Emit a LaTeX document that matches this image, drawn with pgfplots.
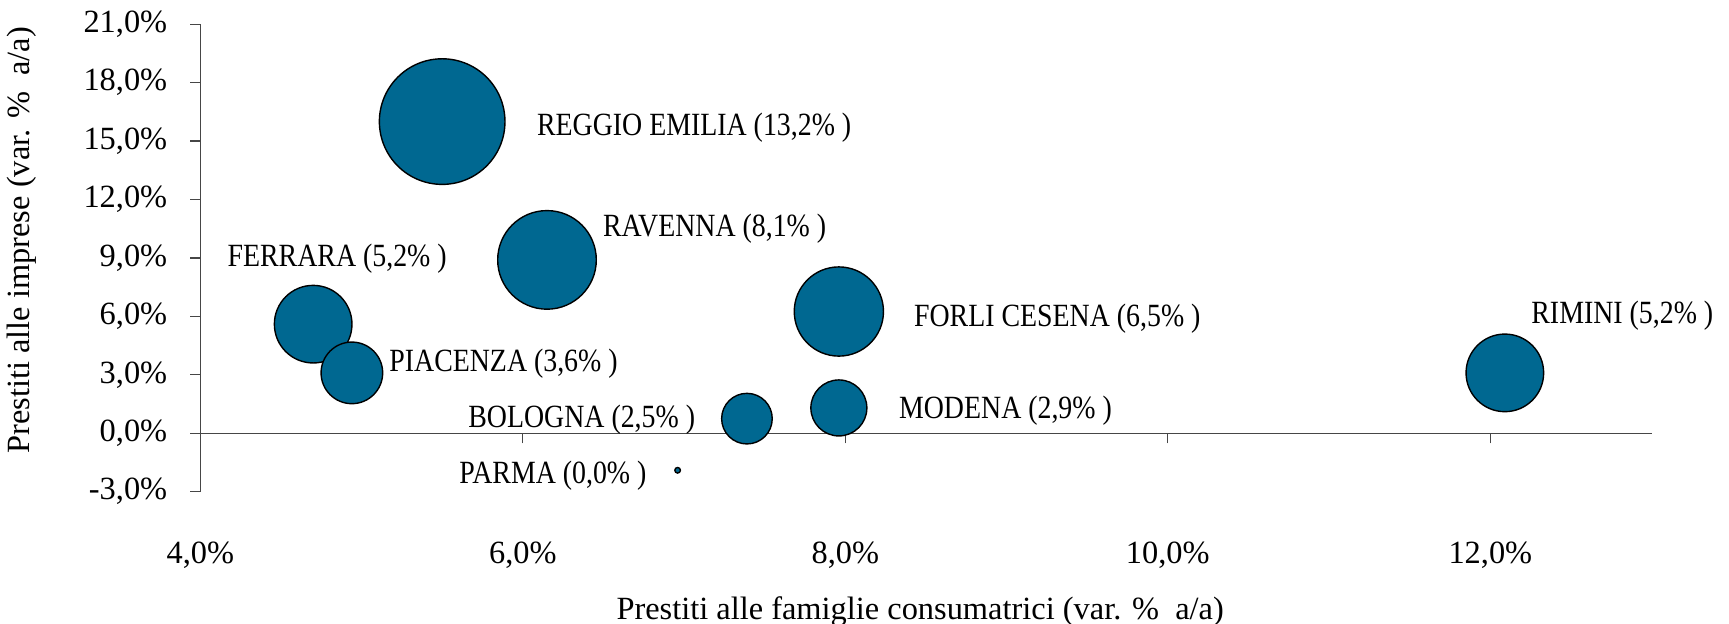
\documentclass[border=0pt]{standalone}
\usepackage{fontspec}
\setmainfont{Liberation Serif}
\newfontfamily\cond[FakeStretch=0.86]{Liberation Serif}
\usepackage{pgfplots}
\usepackage{pgfplotstable}
\pgfplotsset{compat=1.18}
\definecolor{bubble}{RGB}{0,104,145}
\definecolor{axisgray}{RGB}{70,70,70}

% x = prestiti famiglie, y = prestiti imprese, size = label value, r = bubble radius (pt)
\pgfplotstableread{
name x y size r
Reggio 5.50 16.0 13.2 31.4
Ravenna 6.15 8.9 8.1 24.65
Forli 7.96 6.25 6.5 22.3
Rimini 12.09 3.1 5.2 19.4
Ferrara 4.70 5.6 5.2 19.4
Piacenza 4.94 3.1 3.6 15.4
Modena 7.96 1.3 2.9 14.0
Bologna 7.39 0.75 2.5 12.65
Parma 6.96 -1.9 0.0 1.4
}\bubbles

\begin{document}
\begin{tikzpicture}
\useasboundingbox (-100.15pt,-66.15pt) rectangle (764.35pt,245.85pt);
\begin{axis}[
  at={(0pt,0pt)}, anchor=south west,
  scale only axis, width=725.65pt, height=233.75pt,
  xmin=4, xmax=13, ymin=-3, ymax=21,
  clip=false,
  axis x line=middle, axis y line=left,
  hide obscured x ticks=false, hide obscured y ticks=false,
  axis line style={-, draw=axisgray, line width=0.6pt},
  xtick={4,6,8,10,12},
  xticklabels={{4,0\%},{6,0\%},{8,0\%},{10,0\%},{12,0\%}},
  ytick={-3,0,3,6,9,12,15,18,21},
  yticklabels={{-3,0\%},{0,0\%},{3,0\%},{6,0\%},{9,0\%},{12,0\%},{15,0\%},{18,0\%},{21,0\%}},
  tick align=outside, major tick length=5pt,
  tick style={draw=axisgray, line width=0.6pt},
  tick label style={font=\fontsize{16.2pt}{19pt}\selectfont},
  xticklabel style={anchor=base, yshift=-60pt},
  yticklabel shift=8pt,
  xlabel={Prestiti alle famiglie consumatrici (var. \%\ \ a/a)},
  ylabel={Prestiti alle imprese (var. \%\ \ a/a)},
  label style={font=\fontsize{16.2pt}{19pt}\selectfont},
  x label style={at={(axis description cs:0.496,0)}, anchor=base, yshift=-63.8pt},
  y label style={at={(axis description cs:-0.1229,0.538)}, anchor=center},
]
\addplot[scatter, only marks, mark=*,
  scatter/use mapped color={draw=black, fill=bubble},
  mark options={line width=0.7pt},
  visualization depends on={\thisrow{r} \as \rad},
  scatter/@pre marker code/.append style={/tikz/mark size=\rad}]
  table[x=x, y=y, meta=size] {\bubbles};

\tikzset{lab/.style={anchor=base west, inner sep=0pt, font=\cond\fontsize{16.2pt}{19pt}\selectfont}}
\node[lab] at (axis cs:6.086,15.31) {REGGIO EMILIA (13,2\% )};
\node[lab] at (axis cs:6.495,10.09) {RAVENNA (8,1\% )};
\node[lab] at (axis cs:4.167,8.55) {FERRARA (5,2\% )};
\node[lab] at (axis cs:8.424,5.47) {FORLI CESENA (6,5\% )};
\node[lab] at (axis cs:12.252,5.61) {RIMINI (5,2\% )};
\node[lab] at (axis cs:5.170,3.16) {PIACENZA (3,6\% )};
\node[lab] at (axis cs:5.66,0.31) {BOLOGNA (2,5\% )};
\node[lab] at (axis cs:8.331,0.77) {MODENA (2,9\% )};
\node[lab] at (axis cs:5.604,-2.60) {PARMA (0,0\% )};
\end{axis}
\end{tikzpicture}
\end{document}
